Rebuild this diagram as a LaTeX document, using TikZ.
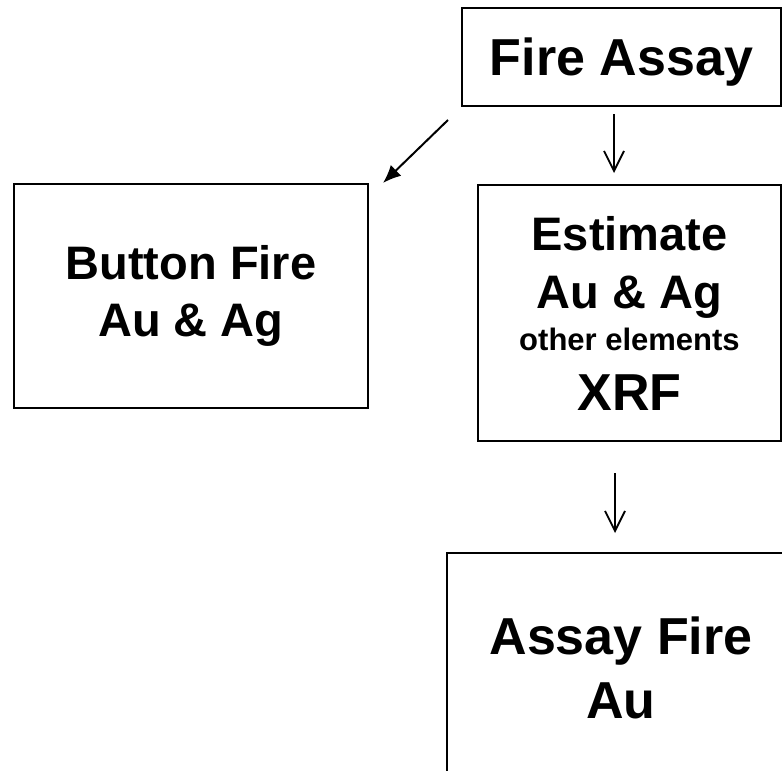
\documentclass[tikz,border=0pt]{standalone}
\usepackage{fontspec}
\setmainfont{Liberation Sans}
\usetikzlibrary{arrows.meta}
\begin{document}
\begin{tikzpicture}[x=1pt,y=-1pt,
  box/.style={draw, line width=2pt, rectangle, inner sep=0pt, align=center},
  diagarrow/.style={line width=2pt, -{Latex[length=18pt,width=15pt]}},
  downarrow/.style={line width=1.8pt, -{Straight Barb[length=20pt,width=20pt]}}]
\clip (0,0) rectangle (782,771);
\fill[white] (0,0) rectangle (782,771);
\node[box, minimum width=319pt, minimum height=98pt, text depth=0pt,
      font=\bfseries\fontsize{52}{64}\selectfont] (fa) at (621.5,57) {Fire Assay};
\node[box, minimum width=354pt, minimum height=224pt,
      font=\bfseries\fontsize{47}{57}\selectfont] (bf) at (191,296) {Button Fire\\Au \& Ag};
\node[box, minimum width=303pt, minimum height=256pt,
      font=\bfseries\fontsize{47}{58}\selectfont] (est) at (629.5,313)
      {Estimate\\Au \& Ag\\[-16pt]{\fontsize{31}{36}\selectfont other elements}\\[2pt]{\fontsize{52}{60}\selectfont XRF}};
\node[box, minimum width=348pt, minimum height=230pt,
      font=\bfseries\fontsize{52}{64}\selectfont] (af) at (621,668) {Assay Fire\\Au};
\coordinate (d1a) at (448,120);
\coordinate (d1b) at (383,183);
\coordinate (v1a) at (614,114);
\coordinate (v1b) at (614,173);
\coordinate (v2a) at (615,473);
\coordinate (v2b) at (615,533);
\draw[diagarrow] (d1a) -- (d1b);
\draw[downarrow] (v1a) -- (v1b);
\draw[downarrow] (v2a) -- (v2b);
\end{tikzpicture}
\end{document}
